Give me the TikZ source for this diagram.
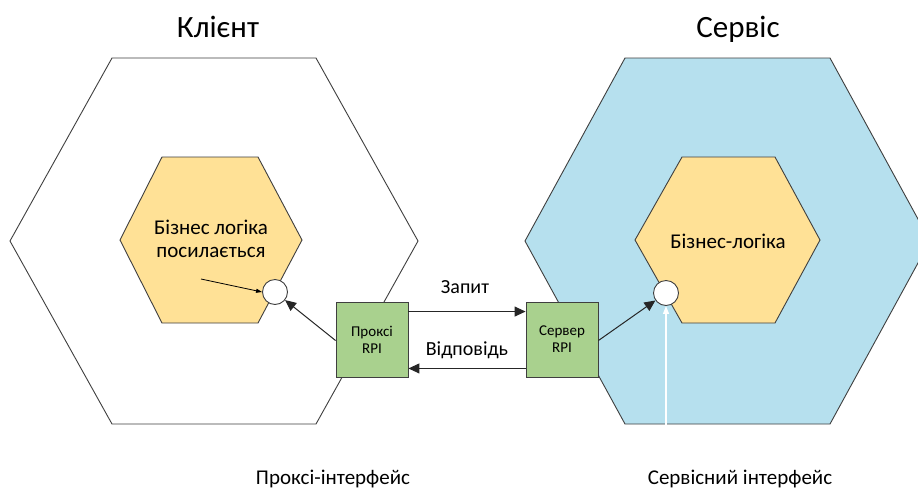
\documentclass[tikz,border=0pt]{standalone}
\usepackage{fontspec}
\setmainfont{Carlito}
\usetikzlibrary{arrows.meta,calc}
\definecolor{outline}{HTML}{3F3F3F}
\definecolor{serviceblue}{HTML}{B6E0EE}
\definecolor{logicyellow}{HTML}{FFE196}
\definecolor{rpigreen}{HTML}{A9D18E}
\tikzset{
  hexline/.style={draw=outline, line width=0.9pt},
  rpibox/.style={draw=outline, line width=0.9pt, fill=rpigreen, minimum width=72pt, minimum height=75pt,
    align=center, font=\fontsize{15}{17}\selectfont, inner sep=0pt},
  port/.style={circle, draw=outline, line width=0.9pt, fill=white, minimum size=25pt, inner sep=0pt},
  conn/.style={draw=black!85, line width=1pt, -{Triangle[length=11pt,width=10pt]}},
  caption/.style={font=\fontsize{21}{24}\selectfont},
  title/.style={font=\fontsize{31}{34}\selectfont},
  msg/.style={font=\fontsize{20}{23}\selectfont},
  logic/.style={font=\fontsize{21}{23}\selectfont, align=center},
}
\begin{document}
\begin{tikzpicture}[x=1pt,y=-1pt]
\useasboundingbox (0,0) rectangle (918,491);
\fill[white] (0,0) rectangle (918,491);

% client and service outer hexagons
\path[hexline, fill=white] (112,58) -- (316,58) -- (418,241) -- (316,424) -- (112,424) -- (10,241) -- cycle;
\path[hexline, fill=serviceblue] (625,58) -- (830,58) -- (930,241) -- (830,424) -- (625,424) -- (525,241) -- cycle;

% business logic hexagons
\path[hexline, fill=logicyellow] (162,157) -- (258,157) -- (302,240) -- (258,323) -- (162,323) -- (120,240) -- cycle;
\path[hexline, fill=logicyellow] (682,157) -- (775,157) -- (820,240) -- (775,323) -- (682,323) -- (635,240) -- cycle;

% titles
\node[title] (tclient) at (218,27) {Клієнт};
\node[title] (tservice) at (738,29) {Сервіс};

% inner texts
\node[logic] (logicL) at (211,239) {Бізнес логіка\\посилається};
\node[logic] (logicR) at (728,241) {Бізнес-логіка};

% ports
\node[port] (portL) at (275,292) {};
\node[port] (portR) at (666,293) {};

% RPI boxes
\node[rpibox] (proxy) at (372,339.5) {Проксі\\RPI};
\node[rpibox] (server) at (562,339.5) {Сервер\\RPI};

% request / response
\coordinate (reqA) at ($(proxy.north east)+(0,10)$);
\coordinate (reqB) at ($(server.north west)+(0,10)$);
\coordinate (resA) at ($(server.south west)+(0,-9)$);
\coordinate (resB) at ($(proxy.south east)+(0,-9)$);
\draw[conn] (reqA) -- (reqB);
\draw[conn] (resA) -- (resB);
\node[msg] (lreq) at (465,287) {Запит};
\node[msg] (lres) at (467,350) {Відповідь};

% connections to the ports
\coordinate (pxOut) at ($(proxy.west)+(0,1)$);
\coordinate (svOut) at ($(server.east)+(0,1)$);
\draw[conn] (pxOut) -- (portL);
\draw[conn] (svOut) -- (portR);

% call from the business logic
\coordinate (callStart) at (201,279);
\draw[black, line width=0.8pt, -{Triangle[length=6pt,width=4pt]}] (callStart) -- (portL.west);

% service interface marker
\coordinate (ifaceStart) at (666,442);
\draw[white, line width=1.3pt, -{Triangle[length=8pt,width=6pt]}] (ifaceStart) -- (portR.south);

% captions
\node[caption] (capL) at (333,479) {Проксі-інтерфейс};
\node[caption] (capR) at (740,479) {Сервісний інтерфейс};
\end{tikzpicture}
\end{document}
